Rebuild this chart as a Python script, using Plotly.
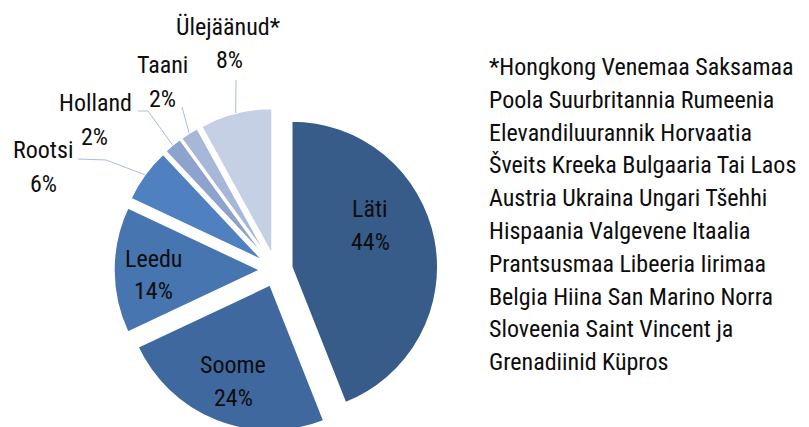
import math
import plotly.graph_objects as go

# Andmed: osakaalud riikide kaupa (%)
labels = ["Läti", "Soome", "Leedu", "Rootsi", "Holland", "Taani", "Ülejäänud*"]
values = [44, 24, 14, 6, 2, 2, 8]
colors = ["#385C89", "#3F689F", "#4775AF", "#4F80BF", "#8CA4CD", "#A7B7D8", "#C5D0E4"]

footnote_lines = [
    "*Hongkong Venemaa Saksamaa",
    "Poola Suurbritannia Rumeenia",
    "Elevandiluurannik Horvaatia",
    "Šveits Kreeka Bulgaaria Tai Laos",
    "Austria Ukraina Ungari Tšehhi",
    "Hispaania Valgevene Itaalia",
    "Prantsusmaa Libeeria Iirimaa",
    "Belgia Hiina San Marino Norra",
    "Sloveenia Saint Vincent ja",
    "Grenadiinid Küpros",
]

W, H = 809, 427
OFF = 8                      # page body margin, positions below are in screen px
FONT = "Roboto Condensed, Roboto, sans-serif"
FS = 24
TXT = "#0d0d0d"
PULL = 0.11
CX, CY, R = 276, 270, 146    # pie centre / radius (screen px)
half = R * (1 + PULL)


def px(x, y):
    return (x - OFF) / W, 1 - (y - OFF) / H


x0, y1 = px(CX - half, CY - half)
x1, y0 = px(CX + half, CY + half)

fig = go.Figure(go.Pie(
    labels=labels,
    values=values,
    sort=False,
    direction="clockwise",
    rotation=0,
    pull=PULL,
    marker=dict(colors=colors, line=dict(color="white", width=1.5)),
    textinfo="none",
    hoverinfo="label+percent",
    showlegend=False,
    domain=dict(x=[x0, x1], y=[max(0, y0), y1]),
))

# label placement (screen px): name line centre, percent line centre
label_pos = {
    "Läti": ((370, 209), (370, 242)),
    "Soome": ((233, 365), (233, 398)),
    "Leedu": ((153, 259), (153, 291)),
    "Rootsi": ((43, 150), (43, 184)),
    "Holland": ((95, 103), (94, 137)),
    "Taani": ((162, 65), (162, 99)),
    "Ülejäänud*": ((228, 27), (229, 60)),
}
# leader line start + elbow points (screen px); end point comes from the slice
leader_pts = {
    "Rootsi": [(78, 159), (106, 160)],
    "Holland": [(138, 111), (148, 111)],
    "Taani": [(182, 107)],
    "Ülejäänud*": [(236, 80)],
}

annotations = []
shapes = []
total = sum(values)
cum = 0
for lab, v in zip(labels, values):
    mid = (cum + v / 2) / total * 2 * math.pi
    cum += v
    (nx, ny), (vx, vy) = label_pos[lab]
    for t, (tx, ty) in ((lab, (nx, ny)), (f"{v}%", (vx, vy))):
        ax_, ay_ = px(tx, ty)
        annotations.append(dict(
            xref="paper", yref="paper", x=ax_, y=ay_, xanchor="center", yanchor="middle",
            text=t, showarrow=False, font=dict(family=FONT, size=FS, color=TXT),
        ))
    if lab in leader_pts:
        rr = R * (1 + PULL)
        ex = CX + rr * math.sin(mid)
        ey = CY - rr * math.cos(mid)
        pts = [px(*p) for p in leader_pts[lab] + [(ex, ey)]]
        path = " ".join(("M" if i == 0 else "L") + f"{p[0]:.5f},{p[1]:.5f}"
                        for i, p in enumerate(pts))
        shapes.append(dict(type="path", xref="paper", yref="paper", path=path,
                           line=dict(color="#A9BEDD", width=1)))

for k, line in enumerate(footnote_lines):
    lx, ly = px(487, 67 + k * 32.8)
    annotations.append(dict(
        xref="paper", yref="paper", x=lx, y=ly,
        xanchor="left", yanchor="middle", showarrow=False, text=line,
        font=dict(family=FONT, size=FS, color=TXT),
    ))

fig.update_layout(
    width=W, height=H,
    margin=dict(l=0, r=0, t=0, b=0),
    paper_bgcolor="white",
    plot_bgcolor="white",
    annotations=annotations,
    shapes=shapes,
)

fig.write_html("out.html")
